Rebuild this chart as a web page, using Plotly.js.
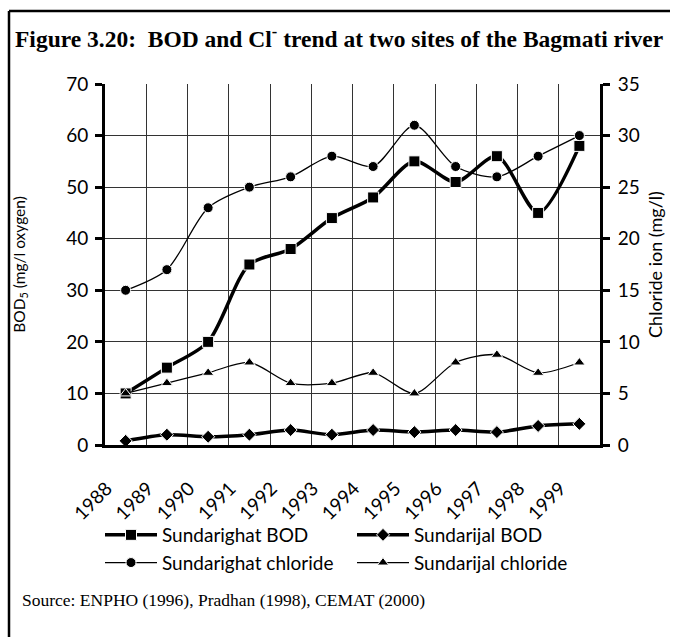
<!DOCTYPE html>
<html>
<head>
<meta charset="utf-8">
<script src="https://cdn.plot.ly/plotly-3.0.1.min.js"></script>
<style>html,body{margin:0;padding:0;background:#fff;}#chart{width:675px;height:637px;}</style>
</head>
<body>
<div id="chart"></div>
<script>
// ---- data ----
const years = ["1988","1989","1990","1991","1992","1993","1994","1995","1996","1997","1998","1999"];
const sundarighatBOD = [10, 15, 20, 35, 38, 44, 48, 55, 51, 56, 45, 58];
const sundarijalBOD = [0.8, 2.0, 1.6, 2.0, 2.9, 2.0, 2.9, 2.5, 2.9, 2.5, 3.7, 4.1];
const sundarighatChloride = [15, 17, 23, 25, 26, 28, 27, 31, 27, 26, 28, 30];
const sundarijalChloride = [5, 6, 7, 8, 6, 6, 7, 5, 8, 8.75, 7, 8];
const leftTicks = [0, 10, 20, 30, 40, 50, 60, 70];
const rightTicks = [0, 5, 10, 15, 20, 25, 30, 35];

const sansFont = "Lato, 'Open Sans', sans-serif";
const serifFont = "'Liberation Serif', 'Times New Roman', serif";

const traces = [
  {name: "Sundarighat BOD", x: years, y: sundarighatBOD, type: "scatter", mode: "lines+markers",
   xaxis: "x", yaxis: "y",
   line: {color: "#000", width: 3.5, shape: "spline", smoothing: 0.8},
   marker: {symbol: "square", size: 11, color: "#000", line: {color: "#fff", width: 1}}},
  {name: "Sundarijal BOD", x: years, y: sundarijalBOD, type: "scatter", mode: "lines+markers",
   xaxis: "x", yaxis: "y",
   line: {color: "#000", width: 3.5, shape: "spline", smoothing: 0.8},
   marker: {symbol: "diamond", size: 10, color: "#000", line: {color: "#fff", width: 1}}},
  {name: "Sundarighat chloride", x: years, y: sundarighatChloride, type: "scatter", mode: "lines+markers",
   xaxis: "x", yaxis: "y2",
   line: {color: "#000", width: 1.3, shape: "spline", smoothing: 0.8},
   marker: {symbol: "circle", size: 10, color: "#000", line: {color: "#fff", width: 1}}},
  {name: "Sundarijal chloride", x: years, y: sundarijalChloride, type: "scatter", mode: "lines+markers",
   xaxis: "x", yaxis: "y2",
   line: {color: "#000", width: 1.3, shape: "spline", smoothing: 0.8},
   marker: {symbol: "triangle-up", size: 10, color: "#000", line: {color: "#fff", width: 1}}}
];

// plot area in px: left 105, right 600, top 84, bottom 445
const L = 105, R = 600, T = 84, B = 445, W = 675, H = 637;
const px = v => (v - L) / (R - L);
const py = v => (B - v) / (B - T);

const tickCommon = {ticks: "outside", ticklen: 7, tickwidth: 3, tickcolor: "#000"};

const layout = {
  width: W, height: H,
  margin: {l: L, r: W - R, t: T, b: H - B, autoexpand: false},
  paper_bgcolor: "#fff", plot_bgcolor: "#fff",
  showlegend: true,
  title: {
    text: "Figure 3.20:  BOD and Cl<sup>-</sup> trend at two sites of the Bagmati river",
    font: {family: serifFont, size: 23.5, color: "#000", weight: "bold"},
    xref: "container", yref: "container", x: 15 / W, xanchor: "left",
    y: 1 - 39 / H, yanchor: "middle"
  },
  // main category axis: grid at category boundaries, labels at category centres
  xaxis: {
    type: "category", categoryorder: "array", categoryarray: years,
    range: [-0.5, 11.5], tickson: "boundaries", tickangle: -45,
    ticks: "outside", ticklen: 7, tickwidth: 3, tickcolor: "rgba(0,0,0,0)",
    ticklabelshift: -19, ticklabelstandoff: 22,
    showline: true, linewidth: 3, linecolor: "#000",
    showgrid: true, gridcolor: "#333", gridwidth: 1, zeroline: false,
    tickfont: {family: sansFont, size: 19, color: "#000"}
  },
  xaxis2: {
    overlaying: "x", anchor: "y", range: [-0.5, 11.5], tick0: -0.5, dtick: 1,
    ticks: "inside", ticklen: 7, tickwidth: 3, tickcolor: "#000",
    showticklabels: false, showgrid: false, showline: false, zeroline: false
  },
  xaxis3: {
    overlaying: "x", anchor: "y", range: [-0.5, 11.5], tick0: -0.5, dtick: 1,
    ticks: "outside", ticklen: 7, tickwidth: 3, tickcolor: "#000",
    showticklabels: false, showgrid: false, showline: false, zeroline: false
  },
  yaxis: Object.assign({}, tickCommon, {
    range: [0, 70], tickvals: leftTicks, ticktext: leftTicks.map(String),
    ticklabelstandoff: 3,
    showline: true, linewidth: 3, linecolor: "#000", mirror: false,
    showgrid: true, gridcolor: "#333", gridwidth: 1, zeroline: false,
    tickfont: {family: sansFont, size: 19, color: "#000"},
    title: {text: "BOD<sub>5</sub> (mg/l oxygen)", font: {family: sansFont, size: 15.5, color: "#000"}, standoff: 37}
  }),
  yaxis2: Object.assign({}, tickCommon, {
    overlaying: "y", side: "right", anchor: "x",
    range: [0, 35], tickvals: rightTicks, ticktext: rightTicks.map(String),
    ticklabelstandoff: 4,
    showline: true, linewidth: 3, linecolor: "#000",
    showgrid: false, zeroline: false,
    tickfont: {family: sansFont, size: 19, color: "#000"},
    title: {text: "Chloride ion (mg/l)", font: {family: sansFont, size: 18, color: "#000"}, standoff: 11}
  }),
  yaxis3: {
    overlaying: "y", side: "left", anchor: "x", range: [0, 70], tickvals: leftTicks,
    ticks: "inside", ticklen: 7, tickwidth: 3, tickcolor: "#000",
    showticklabels: false, showgrid: false, showline: false, zeroline: false
  },
  yaxis4: {
    overlaying: "y", side: "right", anchor: "x", range: [0, 35], tickvals: rightTicks,
    ticks: "inside", ticklen: 7, tickwidth: 3, tickcolor: "#000",
    showticklabels: false, showgrid: false, showline: false, zeroline: false
  },
  legend: {
    orientation: "h", x: px(100), xanchor: "left", y: py(516), yanchor: "top",
    itemwidth: 52, entrywidth: 185, entrywidthmode: "pixels", traceorder: "normal",
    font: {family: sansFont, size: 19, color: "#000"}, bgcolor: "rgba(0,0,0,0)"
  },
  annotations: [{
    text: "Source: ENPHO (1996), Pradhan (1998), CEMAT (2000)",
    xref: "paper", yref: "paper", x: px(20), y: py(600), xanchor: "left", yanchor: "middle",
    showarrow: false, font: {family: serifFont, size: 17.5, color: "#000"}
  }],
  shapes: [
    {type: "line", xref: "paper", yref: "paper", x0: px(9), x1: px(670), y0: py(11), y1: py(11), line: {color: "#000", width: 2.5}},
    {type: "line", xref: "paper", yref: "paper", x0: px(9), x1: px(9), y0: py(11), y1: py(H), line: {color: "#000", width: 2.5}}
  ]
};

Plotly.newPlot("chart", traces, layout, {displayModeBar: false, staticPlot: true});
</script>
</body>
</html>
